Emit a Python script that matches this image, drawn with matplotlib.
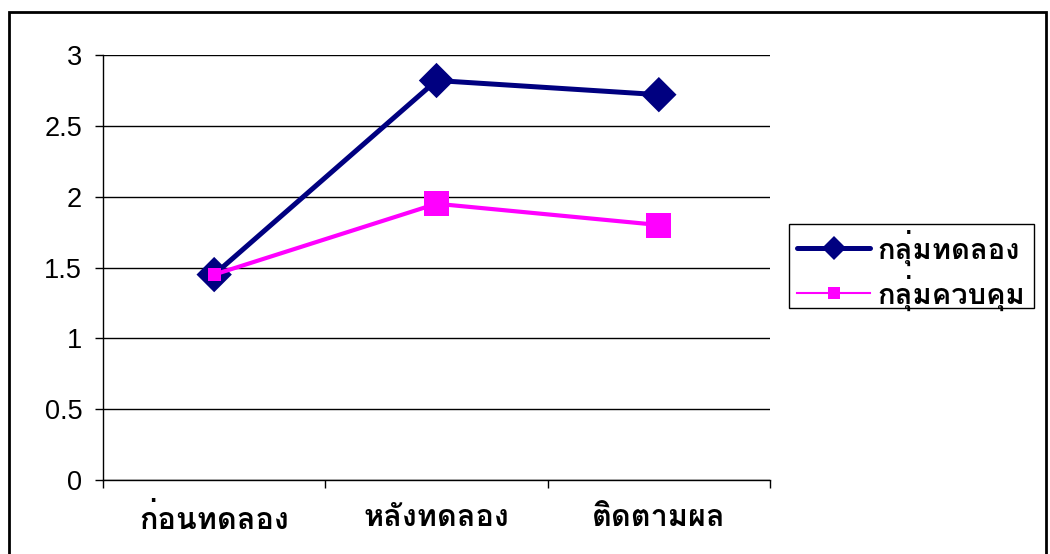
import matplotlib
matplotlib.use("Agg")
import matplotlib.pyplot as plt
from matplotlib import font_manager
from matplotlib.ft2font import FT2Font
from matplotlib.lines import Line2D
from matplotlib.patches import Rectangle

# ---- data ----
categories = ["ก่อนทดลอง", "หลังทดลอง", "ติดตามผล"]
experimental = [1.45, 2.82, 2.72]
control = [1.45, 1.95, 1.80]
series_names = ["กลุ่มทดลอง", "กลุ่มควบคุม"]
y_ticks = [0, 0.5, 1, 1.5, 2, 2.5, 3]


def find_thai_font():
    """Return the family name of an installed font that covers Thai."""
    preferred = ["Tahoma", "Loma", "Garuda", "Norasi", "Noto Sans Thai",
                 "Noto Sans Thai UI", "Sarabun", "Kinnari", "Umpush",
                 "Waree", "Sawasdee", "Tlwg Typo", "Noto Serif Thai"]
    paths = set(f.fname for f in font_manager.fontManager.ttflist)
    try:
        paths |= set(font_manager.findSystemFonts())
    except Exception:
        pass
    found = {}
    for p in paths:
        try:
            ft = FT2Font(p)
            cmap = ft.get_charmap()
            if 0x0E01 in cmap and 0x0E2D in cmap:
                try:
                    font_manager.fontManager.addfont(p)
                except Exception:
                    pass
                found[ft.family_name] = p
        except Exception:
            continue
    for name in preferred:
        if name in found:
            return name
    if found:
        return sorted(found)[0]
    return "DejaVu Sans"


thai_font = find_thai_font()

W, H = 1050, 554
fig = plt.figure(figsize=(W / 100, H / 100), dpi=100)
ax = fig.add_axes([103 / W, 1 - 480 / H, 667 / W, 425 / H])

x = list(range(len(categories)))

navy = "#000080"
magenta = "#FF00FF"

ax.plot(x, experimental, color=navy, lw=3.6, zorder=3, solid_joinstyle="miter")
ax.scatter(x, experimental, marker="D", s=[18 ** 2] * 3, color=navy,
           linewidths=0, zorder=4)
ax.plot(x, control, color=magenta, lw=3.0, zorder=5)
ax.scatter(x, control, marker="s", s=[9.5 ** 2, 18 ** 2, 18 ** 2],
           color=magenta, linewidths=0, zorder=6)

ax.set_xlim(-0.5, 2.5)
ax.set_ylim(0, 3)
ax.set_yticks(y_ticks)
ax.set_yticklabels([f"{v:g}" for v in y_ticks])
ax.yaxis.grid(True, color="black", lw=1.0)
ax.set_axisbelow(True)

ax.set_xticks(x)
ax.set_xticklabels(categories, fontfamily=thai_font, fontweight="bold",
                   fontsize=22)
ax.set_xticks([-0.5, 0.5, 1.5, 2.5], minor=True)
ax.tick_params(axis="x", which="major", length=0, pad=17)
ax.tick_params(axis="x", which="minor", length=6, width=1, direction="out")
ax.tick_params(axis="y", length=6, width=1, direction="out", pad=9,
               labelsize=19.5)
for lbl in ax.get_yticklabels():
    lbl.set_fontfamily("Liberation Sans")

for side in ("top", "right"):
    ax.spines[side].set_visible(False)
for side in ("left", "bottom"):
    ax.spines[side].set_color("black")
    ax.spines[side].set_linewidth(1.0)

# legend: entries without a frame, box drawn separately
handles = [
    Line2D([0], [0], color=navy, lw=3.6, marker="D", markersize=12,
           markeredgewidth=0, solid_capstyle="round"),
    Line2D([0], [0], color=magenta, lw=1.5, marker="s", markersize=9,
           markeredgewidth=0),
]
fig.legend(handles, series_names, loc="upper left",
           bbox_to_anchor=(796 / W, 1 - 228 / H),
           prop={"family": thai_font, "weight": "bold", "size": 21},
           frameon=False, handlelength=2.5, handletextpad=0.25,
           borderpad=0.05, labelspacing=0.3, borderaxespad=0)
fig.patches.append(Rectangle((789 / W, 1 - 308 / H), 245 / W, 84 / H,
                             transform=fig.transFigure, fill=False,
                             edgecolor="black", lw=1.0))

# outer chart border
fig.patches.append(Rectangle((9 / W, -0.02), 1037 / W, 1 - 12 / H + 0.02,
                             transform=fig.transFigure, fill=False,
                             edgecolor="black", lw=2.0))

fig.savefig("out.png", dpi=100)
